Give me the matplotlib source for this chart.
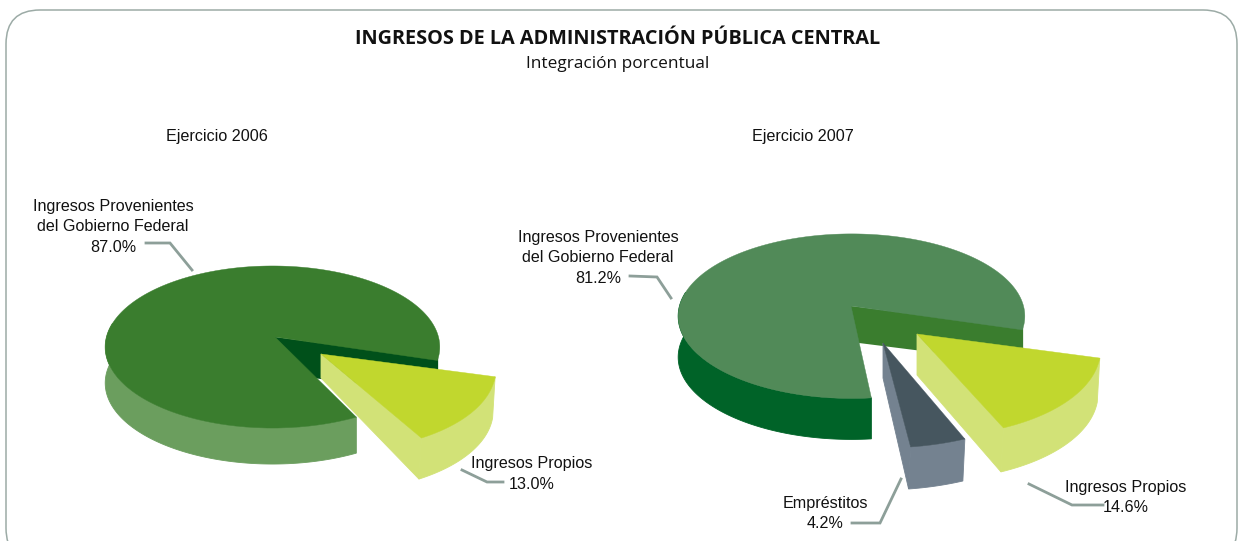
import numpy as np
import matplotlib
matplotlib.use("Agg")
import matplotlib.pyplot as plt
from matplotlib.patches import FancyBboxPatch

shares_2006 = [13.0, 87.0]
names_2006 = ["Ingresos Propios", "Ingresos Provenientes del Gobierno Federal"]
shares_2007 = [14.6, 4.2, 81.2]
names_2007 = ["Ingresos Propios", "Empréstitos", "Ingresos Provenientes del Gobierno Federal"]

title = "INGRESOS DE LA ADMINISTRACIÓN PÚBLICA CENTRAL"
subtitle = "Integración porcentual"

LABEL_FONT = "Liberation Sans"
TITLE_FONT = "Open Sans"
LINE = "#8d9f99"
K = 0.1235  # perspective of the pie
START = 15  # angle where the first slice starts
GAP = 1.5  # main slice is turned a bit, the source chart is not exact


def rim(t, cx, cy, rx, ry, shear=0, shift=0):
    # unit circle seen in perspective, t in degrees, clockwise on screen
    u = np.cos(np.radians(t))
    v = np.sin(np.radians(t))
    w = 1 - K * v
    return cx + shift + rx * u / w + shear * ry * v / w, cy + ry * v / w


def slice3d(ax, t0, t1, c, r, top, side, d0, d1, lean=0, cut_face=False, z=1, shear=0, shift=0):
    cx, cy = c
    rx, ry = r
    x, y = rim(np.linspace(t0, t1, 300), cx, cy, rx, ry, shear, shift)
    a = max(t0, -10)
    b = min(t1, 190)
    xs, ys = rim(np.linspace(a, b, 200), cx, cy, rx, ry, shear, shift)
    ax.fill(np.r_[xs, xs[::-1] + lean], np.r_[ys, ys[::-1] + d1], facecolor=side, edgecolor=side, lw=0.6, zorder=z)
    if cut_face:
        ax.fill([cx, x[-1], x[-1] + lean, cx], [cy, y[-1], y[-1] + d1, cy + d0], facecolor=side, edgecolor=side, lw=0.6, zorder=z)
    ax.fill(np.r_[cx, x], np.r_[cy, y], facecolor=top, edgecolor=top, lw=0.3, zorder=z + 0.5)


def inner_wall(ax, c, r, depth, color, shift=0):
    x0, y0 = rim(START, c[0], c[1], r[0], r[1], 0, shift)
    ax.fill([c[0], x0, x0, c[0]], [c[1], y0, y0 + depth, c[1] + depth], color=color, lw=0, zorder=1)


def label(ax, x, y, s):
    ax.text(x, y + 1.5, s, ha="center", va="center", fontsize=11.6, family=LABEL_FONT, color="#111111", zorder=5)


def leader(ax, xs, ys):
    ax.plot(xs, ys, color=LINE, lw=2, solid_joinstyle="miter", zorder=4)


fig = plt.figure(figsize=(12.4, 5.41), dpi=100)
ax = fig.add_axes([0, 0, 1, 1])
ax.set_xlim(0, 1240)
ax.set_ylim(541, 0)
ax.axis("off")

R = 34
ax.add_patch(FancyBboxPatch((6 + R, 10 + R), 1231 - 2 * R, 552 - 2 * R, boxstyle="round,pad=%d,rounding_size=%d" % (R, R),
                            facecolor="white", edgecolor="#9caba6", lw=1.1, zorder=0))

ax.text(618, 38.5, title, ha="center", va="center", fontsize=14.35, fontweight="bold", family=TITLE_FONT, color="#111111")
ax.text(618, 64, subtitle, ha="center", va="center", fontsize=12.4, family=TITLE_FONT, color="#111111")
label(ax, 217, 135, "Ejercicio 2006")
label(ax, 803, 135, "Ejercicio 2007")

# Ejercicio 2006: dark wall first, then the pulled slice, main slice on top
sw_own = shares_2006[0] * 3.6
t_main = START + sw_own + GAP
inner_wall(ax, (275, 337), (166, 79.8), 36, "#00501a", shift=-2.5)
slice3d(ax, START, START + sw_own, (321, 354), (172, 85), "#c1d72e", "#d2e277", 24, 41, lean=-2.5, cut_face=True, z=2, shear=0.11)
slice3d(ax, t_main, t_main + shares_2006[1] * 3.6, (275, 337), (166, 79.8), "#3a7d2e", "#6b9e5e", 36, 36, z=3, shift=-2.5)

label(ax, 113, 205, "Ingresos Provenientes")
label(ax, 113, 225, "del Gobierno Federal")
label(ax, 113, 246, "%.1f%%" % shares_2006[1])
leader(ax, [146, 170, 192], [243, 243, 270])
label(ax, 532, 462, names_2006[0])
label(ax, 532, 483, "%.1f%%" % shares_2006[0])
leader(ax, [462, 487, 503], [470, 482, 482])

# Ejercicio 2007
sw1 = shares_2007[0] * 3.6
sw2 = shares_2007[1] * 3.6
t_main = START + sw1 + sw2 + GAP
inner_wall(ax, (851, 306), (172, 81), 36, "#3a7d2e", shift=0.5)
slice3d(ax, START, START + sw1, (917, 334), (181, 90), "#c1d72e", "#d2e277", 41, 44, lean=-2.5, cut_face=True, z=2, shear=0.09)
slice3d(ax, START + sw1, START + sw1 + sw2, (883, 343), (190, 92), "#46565f", "#748290", 35, 42, lean=-2, cut_face=True, z=2.6)
slice3d(ax, t_main, t_main + shares_2007[2] * 3.6, (851, 306), (172, 81), "#518a58", "#006328", 36, 41, z=3, shift=0.5)

label(ax, 598, 236, "Ingresos Provenientes")
label(ax, 598, 256, "del Gobierno Federal")
label(ax, 598, 277, "%.1f%%" % shares_2007[2])
leader(ax, [630, 657, 671], [276, 277, 298])
label(ax, 1126, 486, names_2007[0])
label(ax, 1126, 506, "%.1f%%" % shares_2007[0])
leader(ax, [1029, 1072, 1103], [484, 505, 505])
label(ax, 825, 502, names_2007[1])
label(ax, 825, 522, "%.1f%%" % shares_2007[1])
leader(ax, [901, 880, 852], [479, 523, 523])

fig.savefig("out.png", dpi=100)
